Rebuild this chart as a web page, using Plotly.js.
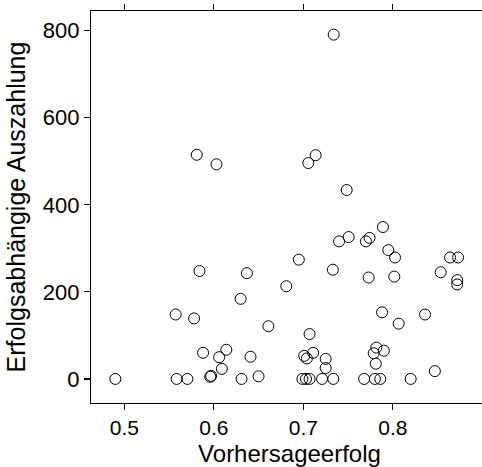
<!DOCTYPE html>
<html>
<head>
<meta charset="utf-8">
<script src="https://cdn.plot.ly/plotly-3.0.1.min.js"></script>
<style>html,body{margin:0;padding:0;background:#fff;overflow:hidden;width:482px;height:467px}#wrap{width:482px;height:467px;overflow:hidden;position:relative}#chart{width:488px;height:467px;position:absolute;left:0;top:0}</style>
</head>
<body>
<div id="wrap"><div id="chart"></div></div>
<script>
const vorhersageerfolg = [
  0.490, 0.5585, 0.5705, 0.5574, 0.578, 0.581, 0.603, 0.584, 0.588, 0.596,
  0.597, 0.606, 0.614, 0.609, 0.630, 0.631, 0.637, 0.641, 0.650, 0.661,
  0.681, 0.695, 0.699, 0.703, 0.707, 0.701, 0.704, 0.711, 0.707, 0.7056,
  0.7138, 0.721, 0.7335, 0.725, 0.725, 0.733, 0.734, 0.740, 0.7507, 0.7485,
  0.768, 0.780, 0.786, 0.7787, 0.7816, 0.790, 0.781, 0.788, 0.770, 0.774,
  0.789, 0.773, 0.795, 0.8025, 0.8017, 0.8066, 0.820, 0.836, 0.847, 0.8535,
  0.864, 0.873, 0.872, 0.872
];
const auszahlung = [
  0, 0, 0, 148, 139, 515, 493, 248, 60, 5,
  7, 50, 67, 23, 184, 0, 243, 51, 6, 121,
  213, 274, 0, 0, 0, 53, 47, 60, 103, 496,
  514, 0, 0, 46, 25, 251, 791, 316, 326, 434,
  0, 0, 0, 59, 72, 65, 35, 153, 316, 324,
  349, 233, 296, 279, 235, 127, 0, 148, 18, 245,
  279, 279, 227, 217
];
const xTicks = [0.5, 0.6, 0.7, 0.8];
const yTicks = [0, 200, 400, 600, 800];

const trace = {
  x: vorhersageerfolg, y: auszahlung, type: 'scatter', mode: 'markers',
  marker: {symbol: 'circle-open', size: 11, color: '#000', line: {width: 1, color: '#000'}},
  hoverinfo: 'x+y'
};
const fam = 'Liberation Sans, Arial, sans-serif';
const W = 488, H = 467, mT = 11, mB = 64, mL = 91, mR = 0;
const plotW = W - mL - mR;
const pxPerUnit = 895;
const xRange = [0.4628, 0.4628 + plotW / pxPerUnit];
const layout = {
  width: W, height: H,
  margin: {l: mL, r: mR, t: mT, b: mB, pad: 0},
  paper_bgcolor: '#fff', plot_bgcolor: '#fff',
  showlegend: false,
  font: {family: fam, color: '#000'},
  xaxis: {
    range: xRange, tickvals: xTicks, ticktext: xTicks.map(v => v.toFixed(1)),
    ticks: 'outside', ticklen: 6, tickwidth: 1.2, tickcolor: '#000',
    showline: true, linecolor: '#000', linewidth: 1.2, mirror: 'ticks',
    showgrid: false, zeroline: false,
    tickfont: {size: 21, family: fam, color: '#000'},
    title: {text: 'Vorhersageerfolg', font: {size: 24, family: fam, color: '#000'}, standoff: 10}
  },
  yaxis: {
    range: [-55.3, 845.3], tickvals: yTicks, ticktext: yTicks.map(String),
    ticks: 'outside', ticklen: 6, tickwidth: 1.2, tickcolor: '#000',
    showline: true, linecolor: '#000', linewidth: 1.2, mirror: false,
    showgrid: false, zeroline: false,
    tickfont: {size: 22, family: fam, color: '#000'},
    title: {text: 'Erfolgsabhängige Auszahlung', font: {size: 25, family: fam, color: '#000'}, standoff: 10}
  }
};
Plotly.newPlot('chart', [trace], layout, {displayModeBar: false, staticPlot: true});
</script>
</body>
</html>
